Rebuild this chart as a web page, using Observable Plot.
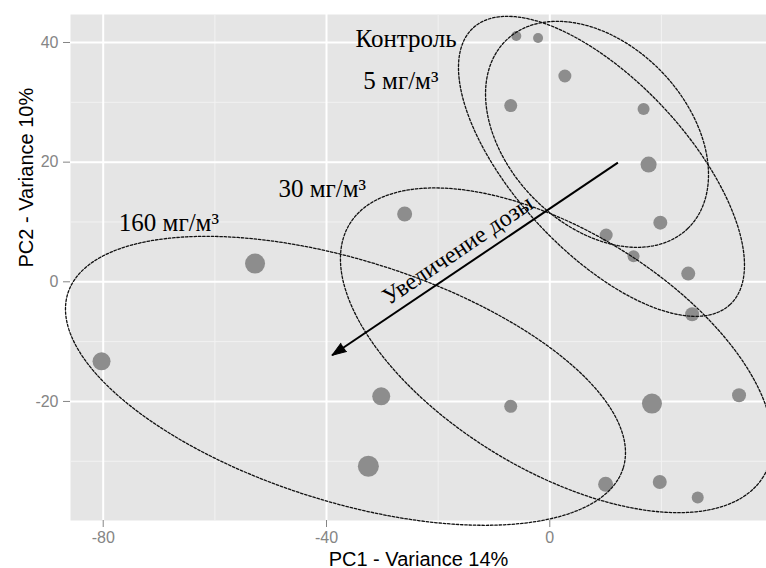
<!DOCTYPE html>
<html><head><meta charset="utf-8">
<script src="https://cdn.jsdelivr.net/npm/d3@7"></script>
<script src="https://cdn.jsdelivr.net/npm/@observablehq/plot@0.6"></script>
<style>body{margin:0;background:#fff} svg{display:block}</style>
</head><body><div id="chart"></div>
<script>
// sample scores
const pc1 = [-6.0, -2.1, 2.7, -7.0, 16.8, 17.7, -26.0, 19.8, 10.1, 15.0, 24.8, 25.5, -30.2, -7.0, 18.3, 33.9, 10.0, 19.7, 26.5, -32.5, -80.3, -52.8];
const pc2 = [41.08, 40.75, 34.4, 29.45, 28.88, 19.59, 11.33, 9.89, 7.82, 4.26, 1.37, -5.43, -19.14, -20.81, -20.36, -18.97, -33.85, -33.46, -36.07, -30.84, -13.29, 3.04];
const weight = [5, 5, 6.5, 6.5, 6, 8, 7.5, 7, 6.5, 6, 7, 7, 9, 6.5, 10, 7, 7.5, 7, 6, 10.5, 9, 10];

// group ellipses: centre and two conjugate semi-axes (data units)
const ellipseGroup = ["Контроль", "5 мг/м³", "30 мг/м³", "160 мг/м³"];
const ellipseCx = [8.46, 9.26, 1.2, -36.6];
const ellipseCy = [24.65, 19.3, -11.45, -16.55];
const ellipseUx = [16.25, 23.03, 37.06, 49.74];
const ellipseUy = [-15.75, -23.11, -21.11, -14.61];
const ellipseVx = [-11.61, -11.22, -11.16, -6.49];
const ellipseVy = [-10.43, -9.73, -17.06, -19.23];

// group labels
const labelText = ["Контроль", "5 мг/м³", "30 мг/м³", "160 мг/м³"];
const labelX = [-34.8, -33.4, -48.6, -77.2];
const labelY = [39.19, 32.2, 14.17, 8.44];

// dose arrow
const arrowFrom = [12.2, 19.92];
const arrowTo = [-39.0, -12.28];
const arrowText = "Увеличение дозы";
const arrowTextPos = [-15.73, 4.26];

// axes
const majorX = [-80, -40, 0];
const minorX = [-60, -20, 20];
const majorY = [-20, 0, 20, 40];
const minorY = [-30, -10, 10, 30];
const xTitle = "PC1 - Variance 14%";
const yTitle = "PC2 - Variance 10%";

const points = pc1.map((x, i) => ({x, y: pc2[i], w: weight[i]}));
const ellipsePts = [];
ellipseGroup.forEach((g, i) => {
  for (let k = 0; k <= 240; k++) {
    const t = 2 * Math.PI * k / 240;
    ellipsePts.push({g,
      x: ellipseCx[i] + ellipseUx[i] * Math.cos(t) + ellipseVx[i] * Math.sin(t),
      y: ellipseCy[i] + ellipseUy[i] * Math.cos(t) + ellipseVy[i] * Math.sin(t)});
  }
});
const labels = labelText.map((t, i) => ({t, x: labelX[i], y: labelY[i]}));
const arrows = [{x1: arrowFrom[0], y1: arrowFrom[1], x2: arrowTo[0], y2: arrowTo[1]}];
const serif = "'Liberation Serif', 'Times New Roman', serif";

const chart = Plot.plot({
  width: 766, height: 568,
  marginLeft: 70, marginRight: 0, marginTop: 14, marginBottom: 48,
  x: {domain: [-85.86, 38.82]},
  y: {domain: [-39.9, 44.68]},
  r: {type: "linear", domain: [0, 10], range: [0, 10]},
  style: {fontFamily: "'Liberation Sans', Arial, sans-serif", background: "white", overflow: "visible"},
  marks: [
    Plot.frame({fill: "#e5e5e5", stroke: null}),
    Plot.gridX(minorX, {stroke: "#f2f2f2", strokeOpacity: 1, strokeWidth: 1}),
    Plot.gridY(minorY, {stroke: "#f2f2f2", strokeOpacity: 1, strokeWidth: 1}),
    Plot.gridX(majorX, {stroke: "#ffffff", strokeOpacity: 1, strokeWidth: 2}),
    Plot.gridY(majorY, {stroke: "#ffffff", strokeOpacity: 1, strokeWidth: 2}),
    Plot.axisX(majorX, {tickSize: 7, tickPadding: 4, fontSize: 16, color: "#858585", label: null, tickFormat: d => String(d)}),
    Plot.axisY(majorY, {tickSize: 7, tickPadding: 5, fontSize: 16, color: "#858585", label: null, tickFormat: d => String(d)}),
    Plot.text([xTitle], {frameAnchor: "bottom", dy: 45, lineAnchor: "bottom", fontSize: 20, fill: "#000"}),
    Plot.text([yTitle], {frameAnchor: "left", dx: -38, rotate: -90, lineAnchor: "bottom", fontSize: 20, fill: "#000"}),
    Plot.dot(points, {x: "x", y: "y", r: "w", fill: "#8d8d8d", stroke: null}),
    Plot.line(ellipsePts, {x: "x", y: "y", z: "g", stroke: "#111", strokeWidth: 1.3, strokeDasharray: "2.5,1.8"}),
    Plot.link(arrows, {x1: "x1", y1: "y1", x2: "x2", y2: "y2", stroke: "#000", strokeWidth: 2}),
    Plot.vector(arrows, {x: "x2", y: "y2", shape: "spike", anchor: "end", length: 14, r: 5, rotate: -124, fill: "#000", stroke: "#000", strokeWidth: 1}),
    Plot.text(labels, {x: "x", y: "y", text: "t", textAnchor: "start", lineAnchor: "bottom", fontFamily: serif, fontSize: 25, fill: "#000"}),
    Plot.text([arrowText], {x: () => arrowTextPos[0], y: () => arrowTextPos[1], rotate: -34, textAnchor: "middle", lineAnchor: "bottom", fontFamily: serif, fontSize: 24, fill: "#000"})
  ]
});
document.getElementById("chart").appendChild(chart);
</script>
</body></html>
